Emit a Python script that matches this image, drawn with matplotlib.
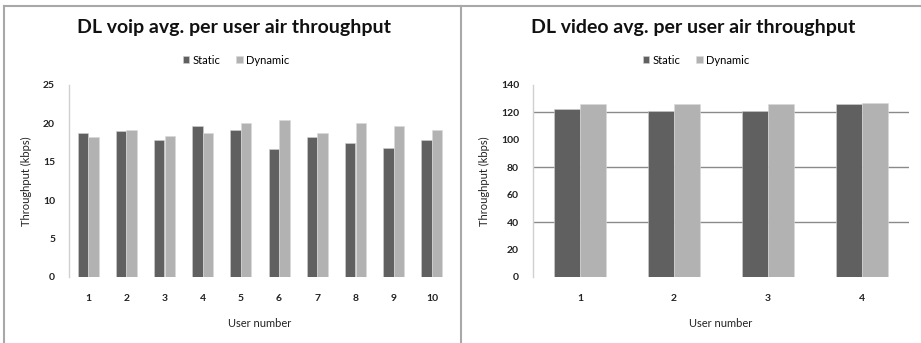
import numpy as np
import matplotlib
matplotlib.use("Agg")
import matplotlib.pyplot as plt
from matplotlib.lines import Line2D

plt.rcParams['font.family'] = ['Lato', 'DejaVu Sans']

# Données
voip_users = ["1", "2", "3", "4", "5", "6", "7", "8", "9", "10"]
voip_static = [18.8, 19.0, 17.8, 19.7, 19.2, 16.7, 18.2, 17.5, 16.8, 17.8]
voip_dynamic = [18.2, 19.1, 18.3, 18.7, 20.0, 20.4, 18.7, 20.0, 19.7, 19.2]

video_users = ["1", "2", "3", "4"]
video_static = [122.2, 121.2, 121.2, 125.8]
video_dynamic = [125.8, 125.8, 125.8, 126.8]

c_static = "#606060"
c_dynamic = "#b2b2b2"
W, H = 921, 343

fig = plt.figure(figsize=(W / 100, H / 100), dpi=100)


def px_axes(x0, y0, x1, y1):
    return fig.add_axes([x0 / W, 1 - y1 / H, (x1 - x0) / W, (y1 - y0) / H])


def draw(ax, users, static, dynamic, ymax, ystep, title, title_x, legend_x, grid=None):
    x = np.arange(len(users))
    bw = 0.27
    ax.bar(x - bw / 2 - 0.005, static, bw, color=c_static, edgecolor="#d0d0d0", linewidth=0.4, label="Static")
    ax.bar(x + bw / 2 + 0.005, dynamic, bw, color=c_dynamic, edgecolor="#d8d8d8", linewidth=0.4, label="Dynamic")
    ax.set_xlim(-0.5, len(users) - 0.5)
    ax.set_ylim(0, ymax)
    ax.set_yticks(np.arange(0, ymax + 1, ystep))
    ax.set_xticks(x)
    ax.set_xticklabels(users)
    if grid:
        for g in grid:
            ax.axhline(g, color="#8a8a8a", lw=1, zorder=0)
    for s in ["top", "right", "bottom"]:
        ax.spines[s].set_visible(False)
    ax.spines["left"].set_color("#d0d0d0")
    ax.spines["left"].set_linewidth(1)
    ax.tick_params(axis="both", length=0, labelsize=7.5)
    ax.tick_params(axis="y", pad=10)
    ax.tick_params(axis="x", pad=12)
    for t in ax.get_xticklabels() + ax.get_yticklabels():
        t.set_fontweight("bold")
        t.set_color("#222222")
    ax.set_xlabel("User number", fontsize=8, labelpad=11, color="#222222")
    ax.set_ylabel("Throughput (kbps)", fontsize=8, labelpad=8, color="#222222")
    fig.text(title_x / W, 1 - 28 / H, title, ha="center", va="center",
             fontsize=14, fontweight="bold", color="#111111")
    ax.legend(loc="center", bbox_to_anchor=(legend_x / W, 1 - 60 / H),
              bbox_transform=fig.transFigure, ncol=2, frameon=False,
              fontsize=8, handlelength=0.6, handleheight=0.6,
              handletextpad=0.3, columnspacing=1.4)


ax1 = px_axes(69, 85, 451, 277)
draw(ax1, voip_users, voip_static, voip_dynamic, 25, 5,
     "DL voip avg. per user air throughput", 234, 236)

ax2 = px_axes(533, 85, 909, 277)
draw(ax2, video_users, video_static, video_dynamic, 140, 20,
     "DL video avg. per user air throughput", 693, 696, grid=[40, 80, 120])

# Cadres des deux graphiques
frame = "#a8a8a8"
fig.add_artist(Line2D([4 / W, 1], [1 - 6 / H, 1 - 6 / H], color=frame, lw=1.5, transform=fig.transFigure))
fig.add_artist(Line2D([4 / W, 4 / W], [0, 1 - 6 / H], color=frame, lw=1.5, transform=fig.transFigure))
fig.add_artist(Line2D([461 / W, 461 / W], [0, 1 - 6 / H], color=frame, lw=1.5, transform=fig.transFigure))

fig.savefig("out.png", dpi=100, facecolor="white")
